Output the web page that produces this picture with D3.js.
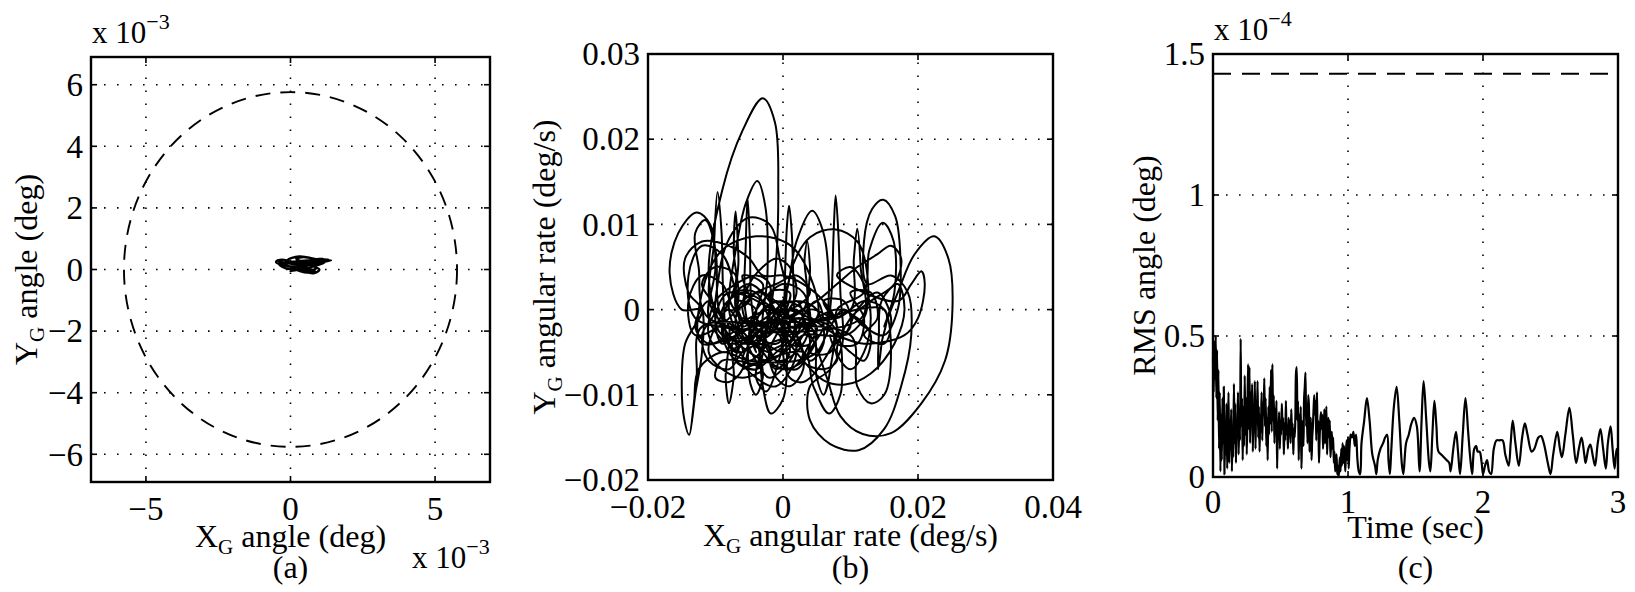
<!DOCTYPE html>
<html>
<head>
<meta charset="utf-8">
<script src="https://cdn.jsdelivr.net/npm/d3@7"></script>
<style>
    body { margin: 0; background: #fff; }
    text { font-family: "Liberation Serif", "Times New Roman", serif; fill: #000; }
    .tick-label { font-size: 33px; }
    .exp-label { font-size: 31px; }
    .axis-label { font-size: 32px; }
    .grid-line { stroke: #000; stroke-width: 1.6; stroke-dasharray: 1.6, 11.4; }
    .box { fill: none; stroke: #000; stroke-width: 2.4; }
    .tick-mark { stroke: #000; stroke-width: 1.6; }
    .trace { fill: none; stroke: #000; stroke-width: 1.8; stroke-linejoin: round; }
    .limit { fill: none; stroke: #000; stroke-width: 1.9; stroke-dasharray: 15, 10; }
</style>
</head>
<body>
<div id="chart"></div>
<script>
//////////////////////////////////////////////////////////////
///////////////////////// Data ///////////////////////////////
//////////////////////////////////////////////////////////////

//(a) gimbal angles, in units of 1e-3 deg
const angleTicksX = [-5, 0, 5]
const angleTicksY = [-6, -4, -2, 0, 2, 4, 6]
const angleLimit = 5.76 //radius of the dashed circle
const angleTrace = [[0,0],[0.4,0.25],[1.0,0.3],[1.4,0.3],[0.9,0.22],[0.3,0.1],[-0.3,0.15],[-0.5,0.25],[-0.3,0.32],
    [0.2,0.2],[0.6,0.05],[0.9,-0.1],[0.6,-0.05],[0.2,0.1],[-0.1,0.3],[0.3,0.42],[0.8,0.35],[1.2,0.25],[0.8,0.1],
    [0.3,0.0],[0.0,-0.05],[0.5,0.15],[1.0,0.2],[1.3,0.32],[0.7,0.3],[0.1,0.25],[-0.4,0.2],[-0.2,0.05],[0.3,-0.02],
    [0.8,-0.12],[1.0,0.0],[0.5,0.2],[0.2,0.35],[0.5,0.4],[0.9,0.3],[0.4,0.18],[-0.2,0.22],[-0.45,0.3],[-0.1,0.12],
    [0.4,0.05],[0.7,-0.08],[0.4,0.12],[0.0,0.2],[0.6,0.28],[1.1,0.36],[0.6,0.2],[0.2,0.02],[0.6,-0.1],[0.9,0.05]]

//(b) angular rates, in units of 1e-3 deg/s
const rateTicksX = [-0.02, 0, 0.02, 0.04]
const rateTicksY = [-0.02, -0.01, 0, 0.01, 0.02, 0.03]
const rateTrace = [[0,0],[-3,2],[-6,1],[-7,-2],[-5,-4],[-2,-3],[0,-1],[2,1],[3,-1],[1,-4],[-2,-6],[-5,-5],
    [-9,-2],[-11,4],[-9,14],[-6,21],[-3,24.8],[-1.2,22],[-0.7,14],[-1.2,4],[-2.5,-3],
    [-4,-7],[-7,-6],[-9,-3],[-8,1],[-5,3],[-2,1],[0,-2],[1,-5],[-1,-7],[-3,-5],
    [-10.5,0],[-10.2,8],[-9.7,13.8],[-9.1,9],[-8.8,1],[-8,-4],
    [-6,-5],[-8,0],[-7,7],[-5.5,12.5],[-3.8,15.1],[-2.6,12],[-2.3,4],[-3,-3],
    [-1,-6],[2,-5],[4,-2],[3,2],[0,3],[-3,1],[-5,-2],[-4,-5],
    [-5.6,0],[-5.5,8],[-5.25,13.1],[-4.9,8],[-4.7,1],[-3.5,-5],
    [-3,-9],[-1.8,-12.2],[0,-10.5],[0.6,-6],[0.2,-2],
    [0.3,4],[0.6,10],[0.9,12.2],[1.3,9],[1.6,2],[2,-3],
    [4,-6],[6,-4],[5,0],[2,1],[-1,0],[-2,-3],
    [0.5,2],[2,8],[4.3,11.6],[6,9],[6.8,3],[6.5,-3],
    [7.2,2],[7.5,9],[7.8,13.4],[8.2,9],[8.5,2],[8.8,-4],
    [7,-7],[4,-9],[4,-13],[7,-15.8],[11.2,-16.5],[15,-14],[17.5,-9],[19,-3],[18.5,2],[16,4],
    [12.5,3],[12,8],[13.2,11.8],[14.85,12.9],[16.6,11],[17.4,6],[17,0],[15,-3],
    [12,-2],[9,0],[7,-2],[5,-5],[2,-6],
    [-5,-6],[-9,-5],[-12.5,-7],[-13.2,-11],[-13.9,-14.7],[-14.6,-13],[-15,-9],[-14.5,-4],[-12,0],
    [-15,0],[-16.8,4.3],[-15.5,9],[-12.8,11.4],[-10.8,10],[-10,5],[-11,-1],
    [-8,-4],[-5,-3],[-3,0],[0,1],[3,0],[5,-3],[3,-6],[0,-7],[-3,-6],[-6,-7],
    [3,-5],[4.5,-9],[6.8,-12.2],[8.5,-10],[8.7,-5],[8,0],
    [12,2],[12.8,7],[14.8,10.2],[16.4,8],[16.5,2],[15,-2],
    [17,2],[19.5,6.5],[22.4,8.6],[24.5,6],[25.1,0],[24,-6],[20.5,-11],[16,-14.5],[11.8,-14.6],[8.5,-12.5],[6.5,-8],
    [4,-3],[1,-1],[-2,-2],[-4,-4],[-7,-5],[-9,-2],[-7,2],[-4,2],[-2,-1],
    [0,-3],[3,-6],[6,-8.3],[9.2,-8.8],[13,-7.5],[16.5,-4],[18,0],[17,3],
    [14.6,1],[14.2,-3],[14.1,-7],[14.6,-4],[15,0],
    [-9,-3],[-9.5,4],[-7.5,9],[-5,10.8],[-2,10],[-0.5,6],[0,1],
    [-12,-4],[-12,2],[-9,7],[-4,8.6],[1,7.6],[4,4],[5,-1],
    [1,-2],[1,4],[4,8.5],[7.8,9.4],[11,8],[12.5,4],[12,-1],
    [9,-3],[6,-1],[3,-3],[1,-6],[-2,-8],[-4,-6],[-6,-3],[-8,0],[-10,-2],[-11,-5],[-9,-7],[-6,-8],[-3,-7],
    [-9,-6],[-10,-8],[-8,-8.5],[-6,-7],[-5.5,-3],
    [-13,-1],[-14,4],[-12,7.5],[-9,6.5],[-7,2],[-6,-2],
    [-4,-1],[-1,1],[1,-1],[0,-4],[-2,-5],[-1,-8],[1,-9],[3,-7],[2,-3],[-1,-2],
    [5,1],[8,3],[11,5],[14,6.5],[16,7.5],[17.5,6],[16.5,3],[13,1],[10,-1],[8,-5],[10,-7],[12,-5],[13,-1],[12,3],[10,5],[8,4],
    [17,1],[19,3],[20.5,4.5],[21,3],[20,-1],[18,-3],
    [12,-4],[8,-3],[4,-1],[0,0],[-3,-2],[-6,-4],[-9,-5],[-11,-3],[-10,1],[-7,3],[-4,4],[-2,3],
    [-3,-4],[-4,-8],[-2.5,-9.6],[-1,-7],[-0.5,-3],
    [-12,-2],[-12.8,-8],[-13.5,-13.2],[-13,-10],[-12,-5],
    [-12,0],[-14,2],[-14.5,6],[-12,8],[-8,7.5],[-5,6],[-3,4],[0,4],[3,3],[6,1],
    [8,-2],[6,-6],[3,-8.5],[1,-8],[0,-5],[0.5,-1],[2,2],[1,5],[-1,6],[-3,5],[-5,3],[-6,0],[-4,-3],[-1,-4],[1,-2],
    [-8,2],[-10,-1],[-9,-4],[-6,-2],[-7,1],[-4,0],[-5,-3],[-2,-5],[-3,-2],[0,-3],[-1,0],[2,-2],[1,-4],[4,-4],[3,-1],
    [5,1],[6,-2],[4,-5],[7,-5],[8,-2],[6,1],[9,1],[10,-2],[8,-4],[11,-4],[12,-1],[10,2],[13,2],[14,-1],[12,-3],
    [15,-4],[16,-1],[14,2],[11,0],[9,-3],[6,-3],[3,-3],[0,-5],[-3,-4],[-6,-5],[-8,-7],[-11,-6],[-12,-3],[-10,0],
    [-12,3],[-10,5],[-7,4],[-8,0],[-5,1],[-6,4],[-3,3],[-4,-1],[-1,-2],[-2,2],[1,2],[0,-2],[3,-5],[1,-7],[-2,-6],
    [-1,-3],[2,-1],[5,-2],[3,-6],[6,-7],[8,-6],[7,-3],[10,-5],[12,-6],[13,-3],[11,-1],[8,0],[5,-1],[2,-3],[-1,-5],
    [-4,-7],[-7,-6],[-6,-3],[-9,-1],[-11,1],[-13,-2],[-11,-4],[-8,-3],[-5,-1],[-2,0],[1,0],[4,2],[2,4],[-1,3],
    [-4,2],[-7,0],[-9,3],[-12,4],[-14,1],[-13,-3],
    [-7,0],[-7.3,7],[-7,11.5],[-6.6,6],[-6.4,-1],
    [3,0],[3.2,6],[3.6,8],[4,5],[4.2,-1],
    [10,0],[10.5,6],[11,9.5],[11.5,5],[11.6,-1],
    [-11,-1],[-12.5,5],[-13,9],[-11.5,10.5],[-10,7],[-9.5,0],
    [-8,-2],[-8.5,-8],[-8,-11],[-7.3,-8],[-7,-3],
    [4,-2],[5,-8],[6,-10],[7,-7],[7,-2],
    [-4,-2],[-5,-8],[-4,-10],[-3,-8],[-3,-3],
    [10,-3],[11,-9],[13,-11],[15,-10],[16,-5],[15,0],[12,1],[8,-1],[4,0],
    [1,-3],[-2,-4],[-5,-6],[-7,-4],[-6,-1],[-3,-3],[-1,-6],[2,-7],[4,-4],[2,0],[-1,-1],[-4,-3],[-6,-6],[-4,-8],[-1,-9],
    [2,-5],[0,-1],[-3,1],[-6,2],[-9,0],[-8,-3],[-5,-4],[-2,-2],[0,0]]

//(c) RMS angle, in units of 1e-4 deg
const timeTicks = [0, 1, 2, 3]
const rmsTicks = [0, 0.5, 1, 1.5]
const rmsLimit = 1.43
const rmsTime = [0.000,0.005,0.010,0.015,0.020,0.025,0.030,0.035,0.040,0.045,0.050,0.055,0.060,0.065,0.070,0.075,0.080,0.085,0.090,0.095,
    0.100,0.105,0.110,0.115,0.120,0.125,0.130,0.135,0.140,0.145,0.150,0.155,0.160,0.165,0.170,0.175,0.180,0.185,0.190,0.195,
    0.200,0.205,0.210,0.215,0.220,0.225,0.230,0.235,0.240,0.245,0.250,0.255,0.260,0.265,0.270,0.275,0.280,0.285,0.290,0.295,
    0.300,0.305,0.310,0.315,0.320,0.325,0.330,0.335,0.340,0.345,0.350,0.355,0.360,0.365,0.370,0.375,0.380,0.385,0.390,0.395,
    0.400,0.405,0.410,0.415,0.420,0.425,0.430,0.435,0.440,0.445,0.450,0.455,0.460,0.465,0.470,0.475,0.480,0.485,0.490,0.495,
    0.500,0.505,0.510,0.515,0.520,0.525,0.530,0.535,0.540,0.545,0.550,0.555,0.560,0.565,0.570,0.575,0.580,0.585,0.590,0.595,
    0.600,0.605,0.610,0.615,0.620,0.625,0.630,0.635,0.640,0.645,0.650,0.655,0.660,0.665,0.670,0.675,0.680,0.685,0.690,0.695,
    0.700,0.705,0.710,0.715,0.720,0.725,0.730,0.735,0.740,0.745,0.750,0.755,0.760,0.765,0.770,0.775,0.780,0.785,0.790,0.795,
    0.800,0.805,0.810,0.815,0.820,0.825,0.830,0.835,0.840,0.845,0.850,0.855,0.860,0.865,0.870,0.875,0.880,0.885,0.890,0.895,
    0.900,0.905,0.910,0.915,0.920,0.925,0.930,0.935,0.940,0.945,0.950,0.955,0.960,0.965,0.970,0.975,0.980,0.985,0.990,0.995,
    1.000,1.005,1.010,1.015,1.020,1.030,1.040,1.050,1.060,1.070,1.080,1.090,1.100,1.120,1.140,1.160,1.180,1.200,1.210,1.220,
    1.240,1.260,1.275,1.290,1.300,1.310,1.320,1.340,1.360,1.380,1.400,1.410,1.430,1.450,1.470,1.490,1.510,1.530,1.545,1.560,
    1.580,1.600,1.610,1.625,1.640,1.655,1.670,1.690,1.710,1.730,1.750,1.760,1.780,1.800,1.815,1.830,1.850,1.870,1.890,1.905,
    1.920,1.935,1.950,1.960,1.975,1.990,2.000,2.015,2.030,2.045,2.060,2.080,2.100,2.120,2.145,2.165,2.190,2.205,2.220,2.240,
    2.265,2.290,2.310,2.330,2.360,2.380,2.410,2.430,2.450,2.480,2.500,2.520,2.550,2.570,2.585,2.610,2.640,2.665,2.690,2.710,
    2.730,2.750,2.760,2.780,2.795,2.815,2.830,2.850,2.870,2.890,2.910,2.925,2.945,2.960,2.975,2.990,3.000]
const rmsValue = [0.42,0.30,0.48,0.35,0.50,0.28,0.45,0.20,0.38,0.10,0.30,0.02,0.22,0.06,0.28,0.12,0.32,0.01,0.18,0.08,
    0.26,0.03,0.14,0.30,0.05,0.20,0.10,0.24,0.02,0.18,0.07,0.33,0.12,0.26,0.05,0.20,0.15,0.30,0.08,0.22,
    0.13,0.49,0.18,0.28,0.06,0.25,0.11,0.36,0.15,0.28,0.08,0.22,0.40,0.17,0.39,0.12,0.30,0.20,0.33,0.09,
    0.24,0.16,0.34,0.10,0.27,0.19,0.34,0.14,0.25,0.09,0.22,0.16,0.30,0.13,0.26,0.22,0.35,0.18,0.28,0.11,
    0.21,0.06,0.25,0.15,0.32,0.19,0.38,0.16,0.40,0.20,0.29,0.12,0.24,0.17,0.27,0.03,0.19,0.14,0.23,0.10,
    0.20,0.15,0.26,0.17,0.21,0.08,0.19,0.13,0.27,0.15,0.18,0.10,0.21,0.15,0.20,0.12,0.24,0.16,0.19,0.08,
    0.17,0.14,0.21,0.37,0.39,0.20,0.27,0.06,0.22,0.12,0.25,0.03,0.15,0.20,0.11,0.28,0.32,0.37,0.18,0.25,
    0.12,0.29,0.26,0.09,0.18,0.21,0.06,0.14,0.18,0.24,0.29,0.22,0.27,0.13,0.30,0.16,0.20,0.05,0.14,0.20,
    0.23,0.17,0.22,0.10,0.15,0.24,0.12,0.19,0.25,0.08,0.17,0.21,0.14,0.20,0.07,0.12,0.16,0.10,0.14,0.05,
    0.09,0.02,0.06,0.08,0.01,0.04,0.00,0.03,0.07,0.02,0.10,0.04,0.12,0.05,0.11,0.08,0.02,0.09,0.13,0.06,
    0.14,0.03,0.09,0.13,0.15,0.14,0.16,0.11,0.15,0.06,0.02,0.01,0.12,0.20,0.28,0.20,0.08,0.04,0.01,0.06,
    0.10,0.12,0.14,0.15,0.06,0.01,0.09,0.25,0.32,0.20,0.04,0.01,0.12,0.15,0.19,0.21,0.18,0.02,0.20,0.34,
    0.20,0.05,0.02,0.15,0.27,0.18,0.09,0.08,0.07,0.06,0.05,0.02,0.10,0.16,0.09,0.01,0.15,0.28,0.16,0.07,
    0.01,0.10,0.11,0.09,0.09,0.05,0.01,0.04,0.06,0.02,0.01,0.10,0.13,0.13,0.13,0.08,0.04,0.12,0.20,0.12,
    0.04,0.14,0.19,0.15,0.09,0.10,0.14,0.145,0.12,0.05,0.01,0.08,0.16,0.10,0.07,0.15,0.245,0.15,0.05,0.10,
    0.14,0.08,0.05,0.10,0.115,0.07,0.04,0.12,0.17,0.10,0.03,0.12,0.18,0.10,0.03,0.10,0.08]

//////////////////////////////////////////////////////////////
//////////////////////// Create SVG //////////////////////////
//////////////////////////////////////////////////////////////

const width = 1635
const height = 592
const tickLength = 6
const minus = "\u2212"

const svg = d3.select("#chart")
    .append("svg")
    .attr("width", width)
    .attr("height", height)

const fmt = d => (d < 0 ? minus : "") + Math.abs(d)

//////////////////////////////////////////////////////////////
/////////////////////// Panel (a) ////////////////////////////
//////////////////////////////////////////////////////////////

const xA = d3.scaleLinear().domain([-6.9, 6.9]).range([91, 490])
const yA = d3.scaleLinear().domain([-6.9, 6.9]).range([482, 57])
const panelA = svg.append("g").attr("class", "panel-a")

drawGrid(panelA, xA, yA, angleTicksX, angleTicksY)

//Dashed limit circle
panelA.append("ellipse")
    .attr("class", "limit")
    .attr("cx", xA(0))
    .attr("cy", yA(0))
    .attr("rx", xA(angleLimit) - xA(0))
    .attr("ry", yA(0) - yA(angleLimit))

panelA.append("path")
    .attr("class", "trace")
    .style("stroke-width", 2.4)
    .attr("d", d3.line().x(d => xA(d[0])).y(d => yA(d[1])).curve(d3.curveCatmullRom)(angleTrace))

drawFrame(panelA, xA, yA, angleTicksX, angleTicksY, 520)
addExponent(panelA, 92, 43, "3")
addExponent(panelA, 412, 568, "3")
addLabel(panelA, xA, 547, "X", "G", " angle (deg)")
addYLabel(panelA, 37, yA, "Y", "G", " angle (deg)")
addCaption(panelA, xA, "(a)")

//////////////////////////////////////////////////////////////
/////////////////////// Panel (b) ////////////////////////////
//////////////////////////////////////////////////////////////

const xB = d3.scaleLinear().domain([-0.02, 0.04]).range([648, 1053])
const yB = d3.scaleLinear().domain([-0.02, 0.03]).range([480, 54])
const panelB = svg.append("g").attr("class", "panel-b")

drawGrid(panelB, xB, yB, rateTicksX, rateTicksY)

panelB.append("path")
    .attr("class", "trace")
    .style("stroke-width", 2)
    .attr("d", d3.line().x(d => xB(d[0] / 1000)).y(d => yB(d[1] / 1000)).curve(d3.curveCatmullRom)(rateTrace))

drawFrame(panelB, xB, yB, rateTicksX, rateTicksY, 518)
addLabel(panelB, xB, 546, "X", "G", " angular rate (deg/s)")
addYLabel(panelB, 555, yB, "Y", "G", " angular rate (deg/s)")
addCaption(panelB, xB, "(b)")

//////////////////////////////////////////////////////////////
/////////////////////// Panel (c) ////////////////////////////
//////////////////////////////////////////////////////////////

const xC = d3.scaleLinear().domain([0, 3]).range([1213, 1618])
const yC = d3.scaleLinear().domain([0, 1.5]).range([477, 54])
const panelC = svg.append("g").attr("class", "panel-c")

drawGrid(panelC, xC, yC, timeTicks, rmsTicks)

panelC.append("path")
    .attr("class", "trace")
    .style("stroke-width", 2.2)
    .attr("d", d3.line().x(d => xC(d)).y((d, i) => yC(rmsValue[i])).curve(d3.curveCatmullRom)(rmsTime))

panelC.append("line")
    .attr("class", "limit")
    .style("stroke-dasharray", "18, 11")
    .attr("x1", xC(0))
    .attr("x2", xC(3))
    .attr("y1", yC(rmsLimit))
    .attr("y2", yC(rmsLimit))

drawFrame(panelC, xC, yC, timeTicks, rmsTicks, 513)
addExponent(panelC, 1214, 40, "4")
addLabel(panelC, xC, 538, "Time (sec)")
addYLabel(panelC, 1155, yC, "RMS angle (deg)")
addCaption(panelC, xC, "(c)")

//////////////////////////////////////////////////////////////
/////////////////////// Helper functions /////////////////////
//////////////////////////////////////////////////////////////

function drawGrid(g, x, y, xTicks, yTicks) {
    const [x0, x1] = x.range()
    const [y1, y0] = y.range()
    g.selectAll(".grid-x")
        .data(xTicks)
        .enter().append("line")
        .attr("class", "grid-line grid-x")
        .attr("x1", d => x(d)).attr("x2", d => x(d))
        .attr("y1", y1).attr("y2", y0)
    g.selectAll(".grid-y")
        .data(yTicks)
        .enter().append("line")
        .attr("class", "grid-line grid-y")
        .attr("x1", x0).attr("x2", x1)
        .attr("y1", d => y(d)).attr("y2", d => y(d))
}//function drawGrid

function drawFrame(g, x, y, xTicks, yTicks, xLabelY) {
    const [x0, x1] = x.range()
    const [y1, y0] = y.range()

    g.append("rect")
        .attr("class", "box")
        .attr("x", x0).attr("y", y0)
        .attr("width", x1 - x0).attr("height", y1 - y0)

    //Inward tick marks on all four sides
    xTicks.forEach(d => {
        g.append("line").attr("class", "tick-mark")
            .attr("x1", x(d)).attr("x2", x(d)).attr("y1", y1).attr("y2", y1 - tickLength)
        g.append("line").attr("class", "tick-mark")
            .attr("x1", x(d)).attr("x2", x(d)).attr("y1", y0).attr("y2", y0 + tickLength)
    })
    yTicks.forEach(d => {
        g.append("line").attr("class", "tick-mark")
            .attr("x1", x0).attr("x2", x0 + tickLength).attr("y1", y(d)).attr("y2", y(d))
        g.append("line").attr("class", "tick-mark")
            .attr("x1", x1).attr("x2", x1 - tickLength).attr("y1", y(d)).attr("y2", y(d))
    })

    g.selectAll(".x-tick-label")
        .data(xTicks)
        .enter().append("text")
        .attr("class", "tick-label x-tick-label")
        .attr("x", d => x(d))
        .attr("y", xLabelY)
        .attr("text-anchor", "middle")
        .text(fmt)

    g.selectAll(".y-tick-label")
        .data(yTicks)
        .enter().append("text")
        .attr("class", "tick-label y-tick-label")
        .attr("x", x0 - 8)
        .attr("y", d => y(d))
        .attr("dy", "0.34em")
        .attr("text-anchor", "end")
        .text(fmt)
}//function drawFrame

function addExponent(g, x, y, power) {
    const t = g.append("text")
        .attr("class", "exp-label")
        .attr("x", x)
        .attr("y", y)
    t.append("tspan").text("x 10")
    t.append("tspan")
        .attr("dy", -14)
        .style("font-size", "22px")
        .text(minus + power)
}//function addExponent

function addLabel(g, x, y, main, sub, rest) {
    const [x0, x1] = x.range()
    const t = g.append("text")
        .attr("class", "axis-label")
        .attr("x", (x0 + x1) / 2)
        .attr("y", y)
        .attr("text-anchor", "middle")
    writeSubscript(t, main, sub, rest)
}//function addLabel

function addYLabel(g, xPos, y, main, sub, rest) {
    const [y1, y0] = y.range()
    const t = g.append("text")
        .attr("class", "axis-label")
        .attr("transform", "translate(" + xPos + "," + (y0 + y1) / 2 + ") rotate(-90)")
        .attr("text-anchor", "middle")
    writeSubscript(t, main, sub, rest)
}//function addYLabel

function writeSubscript(t, main, sub, rest) {
    t.append("tspan").text(main)
    if (!sub) return
    t.append("tspan").attr("dy", 7).style("font-size", "21px").text(sub)
    t.append("tspan").attr("dy", -7).text(rest)
}//function writeSubscript

function addCaption(g, x, label) {
    const [x0, x1] = x.range()
    g.append("text")
        .attr("class", "axis-label")
        .attr("x", (x0 + x1) / 2)
        .attr("y", 578)
        .attr("text-anchor", "middle")
        .text(label)
}//function addCaption
</script>
</body>
</html>
